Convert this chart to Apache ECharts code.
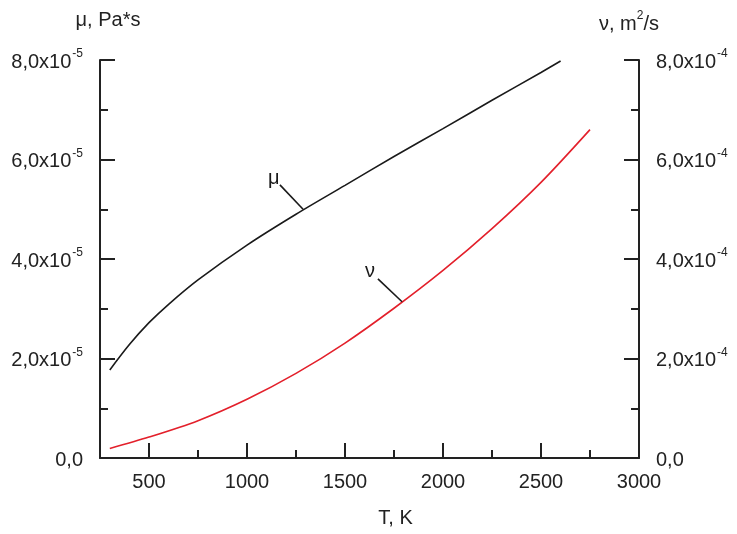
<!DOCTYPE html>
<html>
<head>
<meta charset="utf-8">
<script src="https://cdn.jsdelivr.net/npm/echarts@6/dist/echarts.min.js"></script>
<style>
  html, body { margin: 0; padding: 0; background: #fff; }
  #chart { width: 737px; height: 534px; }
</style>
</head>
<body>
<div id="chart"></div>
<script>
// temperature, K
let muT = [300, 400, 500, 600, 750, 1000, 1250, 1500, 1750, 2000, 2250, 2500, 2600];
// dynamic viscosity, Pa*s
let muVals = [1.77e-5, 2.28e-5, 2.72e-5, 3.09e-5, 3.58e-5, 4.28e-5, 4.9e-5, 5.48e-5, 6.06e-5, 6.62e-5, 7.19e-5, 7.75e-5, 7.98e-5];
let nuT = [300, 500, 750, 1000, 1250, 1500, 1750, 2000, 2250, 2500, 2750];
// kinematic viscosity, m2/s
let nuVals = [0.19e-4, 0.42e-4, 0.75e-4, 1.18e-4, 1.7e-4, 2.31e-4, 3.01e-4, 3.77e-4, 4.61e-4, 5.54e-4, 6.6e-4];

let xMajor = [500, 1000, 1500, 2000, 2500, 3000];
let xMinor = [750, 1250, 1750, 2250, 2750];

// leader lines for curve labels [T, value]
let muLeader = [[1168, 5.49e-5], [1286, 5.0e-5]];
let nuLeader = [[1668, 3.6e-4], [1791, 3.14e-4]];

(function () {
    let myChart = echarts.init(document.getElementById('chart'));
    let font = '"Liberation Sans", Arial, sans-serif';
    let axisColor = '#222';
    let fs = 20;

    function sciLabel(exp) {
        return function (v) {
            let m = Math.round(v / Math.pow(10, exp) * 10) / 10;
            if (m === 0) return '{b|0,0}';
            return '{b|' + m.toFixed(1).replace('.', ',') + 'x10}{s|' + exp + '}';
        };
    }
    let rich = {
        b: { fontSize: fs, fontFamily: font, color: axisColor, lineHeight: 24, verticalAlign: 'bottom' },
        s: { fontSize: 12, fontFamily: font, color: axisColor, lineHeight: 24, verticalAlign: 'top', padding: [0, 0, 0, 1] }
    };

    function yAxisBase(max, interval, exp, pos) {
        return {
            type: 'value',
            position: pos,
            min: 0,
            max: max,
            interval: interval,
            axisLine: { show: true, lineStyle: { color: axisColor, width: 2 } },
            axisTick: { show: true, inside: true, length: 15, lineStyle: { color: axisColor, width: 2 } },
            minorTick: { show: true, splitNumber: 2, length: 8, lineStyle: { color: axisColor, width: 2 } },
            splitLine: { show: false },
            axisLabel: { margin: 17, formatter: sciLabel(exp), rich: rich }
        };
    }

    let yLeft = yAxisBase(8e-5, 2e-5, -5, 'left');
    yLeft.name = 'μ, Pa*s';
    yLeft.nameLocation = 'end';
    yLeft.nameGap = 40;
    yLeft.nameTextStyle = { fontSize: fs, fontFamily: font, color: axisColor, verticalAlign: 'middle', padding: [0, 0, 0, 16] };

    let yRight = yAxisBase(8e-4, 2e-4, -4, 'right');
    yRight.name = '{a|ν, m}{s|2}{a|/s}';
    yRight.nameLocation = 'end';
    yRight.nameGap = 38;
    yRight.nameTextStyle = {
        fontSize: fs, fontFamily: font, color: axisColor, verticalAlign: 'middle', padding: [0, 20, 0, 0],
        rich: {
            a: { fontSize: fs, fontFamily: font, color: axisColor, lineHeight: 24, verticalAlign: 'bottom' },
            s: { fontSize: 12, fontFamily: font, color: axisColor, lineHeight: 24, verticalAlign: 'top' }
        }
    };

    let option = {
        animation: false,
        grid: { left: 100, right: 98, top: 60, bottom: 76, containLabel: false },
        xAxis: [
            {
                type: 'value',
                position: 'bottom',
                min: 250,
                max: 3000,
                name: 'T, K',
                nameLocation: 'middle',
                nameGap: 60,
                nameTextStyle: { fontSize: fs, fontFamily: font, color: axisColor, verticalAlign: 'middle', padding: [0, 0, 0, 52] },
                axisLine: { show: true, lineStyle: { color: axisColor, width: 2 } },
                axisTick: { show: true, inside: true, length: 15, customValues: xMajor, lineStyle: { color: axisColor, width: 2 } },
                axisLabel: {
                    customValues: xMajor, margin: 14, fontSize: fs, fontFamily: font, color: axisColor,
                    formatter: function (v) { return String(v); }
                },
                splitLine: { show: false }
            },
            {
                type: 'value',
                position: 'bottom',
                min: 250,
                max: 3000,
                axisLine: { show: false },
                axisTick: { show: true, inside: true, length: 8, customValues: xMinor, lineStyle: { color: axisColor, width: 2 } },
                axisLabel: { show: false },
                splitLine: { show: false }
            }
        ],
        yAxis: [yLeft, yRight],
        series: [
            {
                name: 'μ',
                type: 'line',
                xAxisIndex: 0,
                yAxisIndex: 0,
                smooth: 0.3,
                symbol: 'none',
                lineStyle: { color: '#1a1a1a', width: 1.6 },
                data: muT.map(function (t, i) { return [t, muVals[i]]; }),
                markLine: {
                    silent: true,
                    symbol: ['none', 'none'],
                    lineStyle: { color: '#1a1a1a', width: 1.6, type: 'solid' },
                    label: { show: true, position: 'start', formatter: 'μ', fontSize: 20, fontFamily: font, color: '#1a1a1a', distance: 9 },
                    data: [[{ coord: muLeader[0] }, { coord: muLeader[1] }]]
                }
            },
            {
                name: 'ν',
                type: 'line',
                xAxisIndex: 0,
                yAxisIndex: 1,
                smooth: 0.3,
                symbol: 'none',
                lineStyle: { color: '#e3202b', width: 1.6 },
                data: nuT.map(function (t, i) { return [t, nuVals[i]]; }),
                markLine: {
                    silent: true,
                    symbol: ['none', 'none'],
                    lineStyle: { color: '#1a1a1a', width: 1.6, type: 'solid' },
                    label: { show: true, position: 'start', formatter: 'ν', fontSize: 20, fontFamily: font, color: '#1a1a1a', distance: 11 },
                    data: [[{ coord: nuLeader[0] }, { coord: nuLeader[1] }]]
                }
            }
        ]
    };
    myChart.setOption(option);
    window.addEventListener('resize', function () {
        myChart.resize();
    });
})();
</script>
</body>
</html>
